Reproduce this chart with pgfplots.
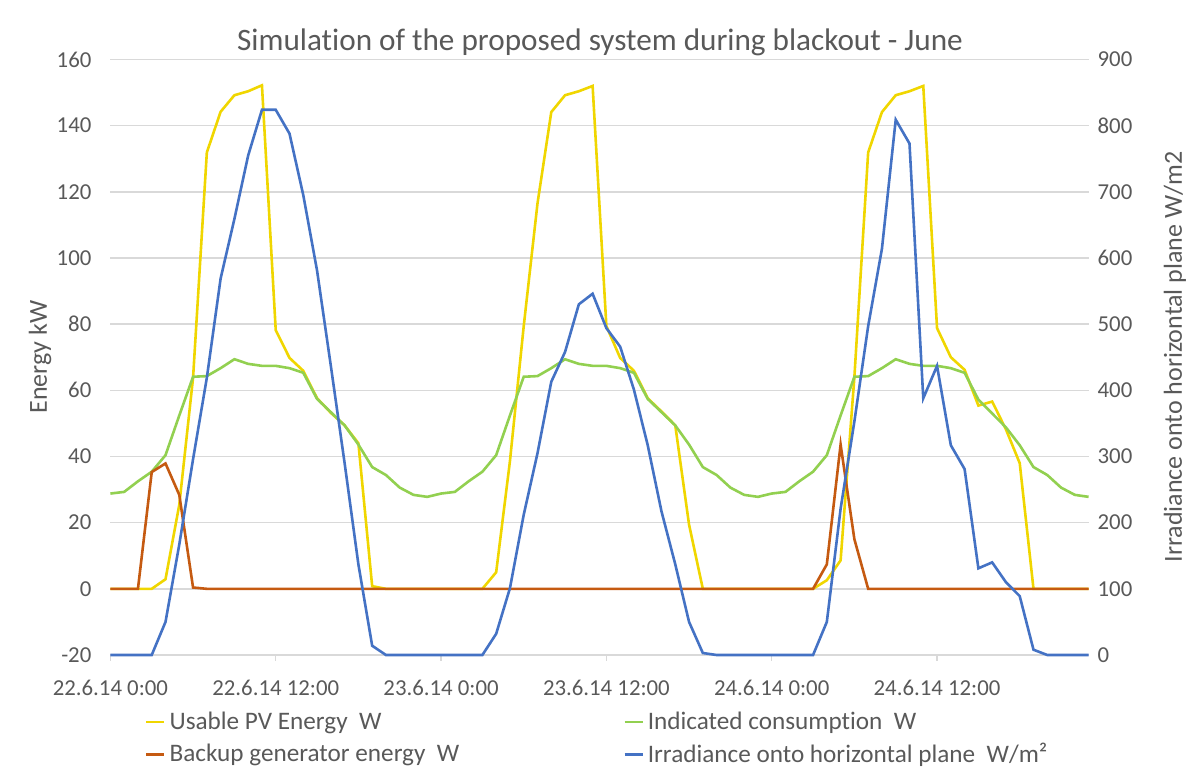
\documentclass[border=0pt]{standalone}
\usepackage{pgfplots}
\pgfplotsset{compat=1.18}
\usepackage{pgfplotstable}
\usepackage{fontspec}
\setmainfont{Carlito}[Ligatures=NoCommon]
\definecolor{pvyellow}{RGB}{240,214,0}
\definecolor{consgreen}{RGB}{146,208,80}
\definecolor{genorange}{RGB}{197,90,17}
\definecolor{irrblue}{RGB}{68,114,196}
\definecolor{gridgray}{RGB}{217,217,217}
\definecolor{txtgray}{RGB}{89,89,89}

\pgfplotstableread{
h pv cons gen irr
0 0 28.8 0 0
1 0 29.3 0 0
2 0 32.5 0 0
3 0 35.4 35.3 0
4 2.9 40.4 37.9 50
5 25.4 52.4 28.4 167
6 63.8 64.1 0.4 296
7 131.9 64.3 0 419
8 144.2 66.7 0 569
9 149.2 69.4 0 659
10 150.4 68.0 0 755
11 152.2 67.4 0 824
12 78.2 67.4 0 824
13 69.8 66.7 0 788
14 65.9 65.3 0 695
15 57.6 57.4 0 581
16 53.2 53.4 0 437
17 49.4 49.4 0 290
18 44.0 43.6 0 137
19 0.8 36.8 0 14
20 0 34.4 0 0
21 0 30.6 0 0
22 0 28.4 0 0
23 0 27.8 0 0
24 0 28.8 0 0
25 0 29.3 0 0
26 0 32.5 0 0
27 0 35.4 0 0
28 5.0 40.4 0 32
29 38.6 52.4 0 101
30 79.4 64.1 0 212
31 116.5 64.3 0 305
32 144.1 66.7 0 413
33 149.2 69.4 0 458
34 150.4 68.0 0 530
35 152.0 67.4 0 546
36 79.4 67.4 0 494
37 69.8 66.7 0 466
38 65.9 65.3 0 401
39 57.6 57.4 0 317
40 53.6 53.4 0 217
41 49.4 49.4 0 137
42 19.4 43.6 0 50
43 0 36.8 0 3
44 0 34.4 0 0
45 0 30.6 0 0
46 0 28.4 0 0
47 0 27.8 0 0
48 0 28.8 0 0
49 0 29.3 0 0
50 0 32.5 0 0
51 0 35.4 0 0
52 2.6 40.4 7.4 50
53 8.6 52.4 43.6 221
54 64.0 64.1 15.0 353
55 131.9 64.3 0 497
56 144.1 66.7 0 614
57 149.2 69.4 0 809
58 150.4 68.0 0 773
59 152.0 67.4 0 388
60 78.8 67.4 0 437
61 70.0 66.7 0 317
62 66.2 65.3 0 281
63 55.4 57.2 0 131
64 56.6 53.0 0 140
65 48.2 48.8 0 110
66 38.0 43.4 0 89
67 0 36.8 0 8
68 0 34.4 0 0
69 0 30.6 0 0
70 0 28.4 0 0
71 0 27.8 0 0
}\datatable

\pgfplotsset{
  common/.style={
    scale only axis,
    width=489.1bp, height=297.75bp,
    at={(55.2bp,62.5bp)}, anchor=south west,
    xmin=0, xmax=71,
    axis line style={draw=none},
    tick label style={font=\fontsize{11.4bp}{13bp}\selectfont, text=txtgray},
    /pgf/number format/assume math mode=true,
    clip=false,
  },
}

\begin{document}
\begin{tikzpicture}
\useasboundingbox (0,0) rectangle (596bp,390bp);
\begin{axis}[common,
  ymin=-20, ymax=160,
  ytick={-20,0,...,160},
  ymajorgrids, grid style={gridgray, line width=0.75bp},
  xtick={0,12,24,36,48,60},
  xticklabels={22.6.14 0:00,22.6.14 12:00,23.6.14 0:00,23.6.14 12:00,24.6.14 0:00,24.6.14 12:00},
  xtick pos=bottom, ytick pos=left,
  tick align=outside,
  major tick length=3bp,
  major x tick style={gridgray, line width=0.75bp},
  major y tick style={draw=none},
  xticklabel style={yshift=-6bp},
  yticklabel style={xshift=-3bp},
]
\addplot[pvyellow, line width=1.3bp] table[x=h,y=pv]{\datatable};
\addplot[consgreen, line width=1.3bp] table[x=h,y=cons]{\datatable};
\addplot[genorange, line width=1.3bp] table[x=h,y=gen]{\datatable};
\end{axis}
\begin{axis}[common,
  ymin=0, ymax=900,
  ytick={0,100,...,900},
  axis x line=none,
  axis y line*=right,
  major y tick style={draw=none},
  yticklabel style={xshift=1bp},
  legend columns=2,
  legend cell align=left,
  legend style={at={(0.035,-0.088)}, anchor=north west, draw=none, fill=none,
    font=\fontsize{12.6bp}{15bp}\selectfont, text=txtgray, inner sep=0pt, row sep=1.5bp,
    /tikz/every even column/.append style={column sep=80bp}},
  legend image code/.code={\draw[#1] (0bp,0bp) -- (9bp,0bp);},
]
\addlegendimage{pvyellow, line width=1.3bp}
\addlegendentry{Usable PV Energy\ \ W}
\addlegendimage{consgreen, line width=1.3bp}
\addlegendentry{Indicated consumption\ \ W}
\addlegendimage{genorange, line width=1.3bp}
\addlegendentry{Backup generator energy\ \ W}
\addplot[irrblue, line width=1.3bp] table[x=h,y=irr]{\datatable};
\addlegendentry{Irradiance onto horizontal plane\ \ W/m²}
\end{axis}
\node[text=txtgray, font=\fontsize{15.6bp}{19bp}\selectfont] at (300bp,369bp) {Simulation of the proposed system during blackout - June};
\node[text=txtgray, font=\fontsize{13bp}{15bp}\selectfont, rotate=90] at (20bp,211.5bp) {Energy kW};
\node[text=txtgray, font=\fontsize{13bp}{15bp}\selectfont, rotate=90] at (587.5bp,211.5bp) {Irradiance onto horizontal plane W/m2};
\end{tikzpicture}
\end{document}
